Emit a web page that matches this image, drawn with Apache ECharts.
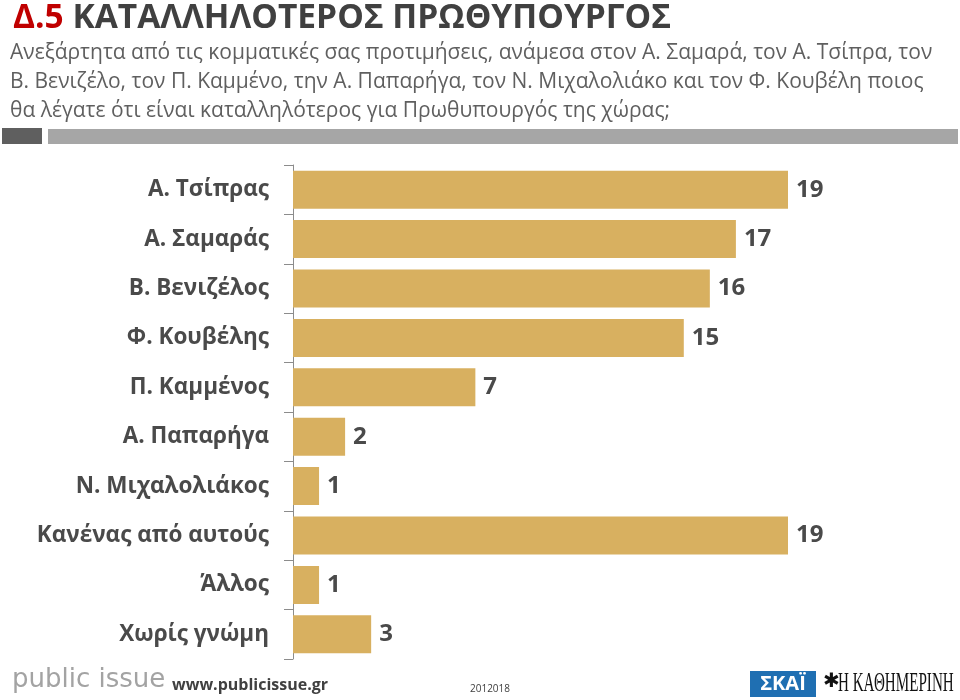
<!DOCTYPE html>
<html><head><meta charset="utf-8">
<script src="https://cdn.jsdelivr.net/npm/echarts@6/dist/echarts.min.js"></script>
<style>html,body{margin:0;padding:0;background:#fff}#c{width:960px;height:700px}</style>
</head><body><div id="c"></div>
<script>
const categories = ["Α. Τσίπρας","Α. Σαμαράς","Β. Βενιζέλος","Φ. Κουβέλης","Π. Καμμένος","Α. Παπαρήγα","Ν. Μιχαλολιάκος","Κανένας από αυτούς","Άλλος","Χωρίς γνώμη"];
const values = [19,17,16,15,7,2,1,19,1,3];
const titleCode = "Δ.5";
const titleText = "ΚΑΤΑΛΛΗΛΟΤΕΡΟΣ ΠΡΩΘΥΠΟΥΡΓΟΣ";
const subtitleLines = [
 "Ανεξάρτητα από τις κομματικές σας προτιμήσεις, ανάμεσα στον Α. Σαμαρά, τον Α. Τσίπρα, τον",
 "Β. Βενιζέλο, τον Π. Καμμένο, την Α. Παπαρήγα, τον Ν. Μιχαλολιάκο και τον Φ. Κουβέλη ποιος",
 "θα λέγατε ότι είναι καταλληλότερος για Πρωθυπουργός της χώρας;"
];
const FONT = "'Open Sans', 'Noto Sans', sans-serif";
const chart = echarts.init(document.getElementById('c'), null, {renderer:'canvas'});
const graphics = [];
subtitleLines.forEach((t,i)=>{
  graphics.push({type:'text', left:10, top:43+i*29, style:{text:t, font:"21px "+FONT, fill:'#5f5f5f'}});
});
graphics.push({type:'rect', shape:{x:2,y:128,width:40,height:16}, style:{fill:'#5f5f5f'}});
graphics.push({type:'rect', shape:{x:48,y:129,width:910,height:15}, style:{fill:'#a6a6a6'}});
graphics.push({type:'text', x:12, y:667, style:{text:'public issue', font:"26px 'DejaVu Sans', sans-serif", fill:'#a3a3a3'}});
graphics.push({type:'text', x:172, y:677, style:{text:'www.publicissue.gr', font:"bold 16px "+FONT, fill:'#404040'}});
graphics.push({type:'text', x:470, y:684, style:{text:'2012018', font:"10px "+FONT, fill:'#404040'}});
graphics.push({type:'rect', shape:{x:750,y:671,width:66,height:26}, style:{fill:'#1f6fb2'}});
graphics.push({type:'text', x:783, y:684, style:{text:'ΣΚΑΪ', font:"bold 20px "+FONT, fill:'#ffffff', textAlign:'center', textVerticalAlign:'middle'}});
graphics.push({type:'text', x:823, y:672, style:{text:'✱', font:"bold 20px 'DejaVu Sans', serif", fill:'#111111'}});
graphics.push({type:'text', x:838, y:670, scaleX:0.56, style:{text:'Η ΚΑΘΗΜΕΡΙΝΗ', font:"27px 'Liberation Serif', serif", fill:'#111111'}});

chart.setOption({
  backgroundColor:'#ffffff',
  animation:false,
  title:{
    text:'{r|'+titleCode+'} '+titleText,
    left:8, top:-4,
    textStyle:{fontFamily:FONT, fontWeight:'bold', fontSize:33.5, color:'#404040',
      rich:{r:{color:'#c00000', fontFamily:FONT, fontWeight:'bold', fontSize:33.5}}}
  },
  graphic:graphics,
  grid:{left:293, top:165, width:495, height:494, containLabel:false},
  xAxis:{type:'value', min:0, max:19, show:false},
  yAxis:{type:'category', data:categories, inverse:true,
    axisLine:{show:true, lineStyle:{color:'#8c8c8c', width:1}},
    axisTick:{show:true, length:9, lineStyle:{color:'#8c8c8c'}},
    axisLabel:{fontFamily:FONT, fontWeight:'bold', fontSize:22.5, color:'#4a4a4a', margin:24},
    splitLine:{show:false}
  },
  series:[{type:'bar', data:values, barCategoryGap:'23%',
    itemStyle:{color:'#d8b060'},
    label:{show:true, position:'right', distance:8, fontFamily:FONT, fontWeight:'bold', fontSize:24, color:'#4a4a4a'}
  }]
});
</script></body></html>
